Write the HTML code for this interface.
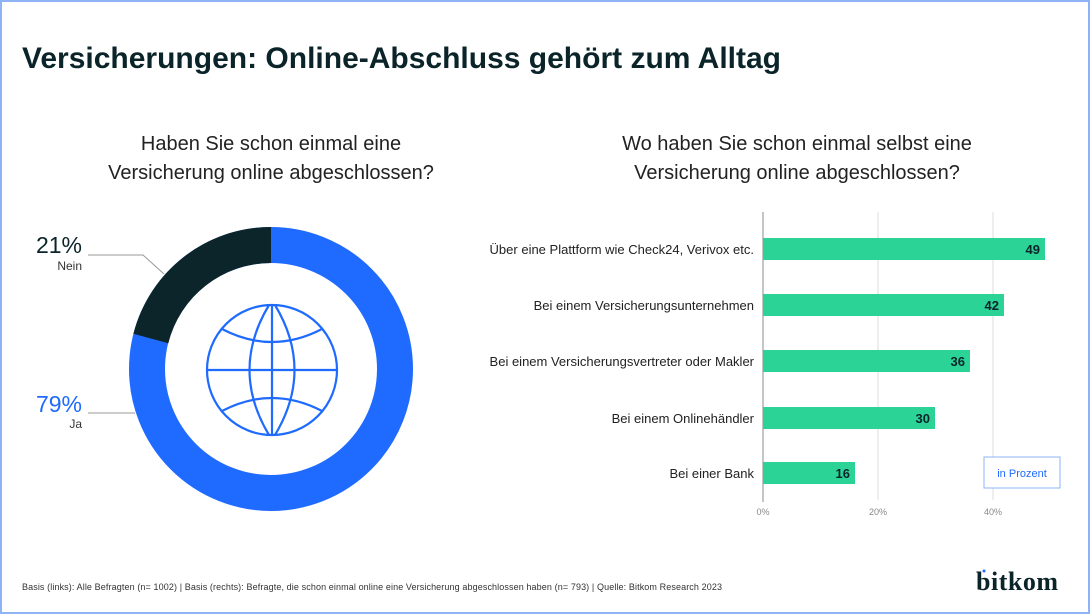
<!DOCTYPE html>
<html><head><meta charset="utf-8"><style>
body{margin:0;width:1090px;height:614px;background:#fff;font-family:"Liberation Sans",sans-serif;overflow:hidden}
.f{position:absolute;left:0;top:0;width:1086px;height:610px;border:2px solid #8fb3f5}
</style></head><body>
<div class="f"></div>
<svg width="1090" height="614" style="position:absolute;left:0;top:0" font-family="Liberation Sans, sans-serif">
<text x="22" y="68" font-size="30" font-weight="bold" fill="#0b2429">Versicherungen: Online-Abschluss gehört zum Alltag</text>
<text x="271" y="150" font-size="20" fill="#222" text-anchor="middle">Haben Sie schon einmal eine</text>
<text x="271" y="179" font-size="20" fill="#222" text-anchor="middle">Versicherung online abgeschlossen?</text>
<text x="797" y="150" font-size="20" fill="#222" text-anchor="middle">Wo haben Sie schon einmal selbst eine</text>
<text x="797" y="179" font-size="20" fill="#222" text-anchor="middle">Versicherung online abgeschlossen?</text>
<circle cx="271" cy="369" r="124" fill="none" stroke="#1f6bff" stroke-width="36"/>
<path d="M271 227 A142 142 0 0 0 133.4 333.8 L168.3 343.2 A106 106 0 0 1 271 263 Z" fill="#0b252b"/>
<g fill="none" stroke="#1f6bff" stroke-width="2.2">
<circle cx="272" cy="370" r="65"/>
<line x1="207" y1="370" x2="337" y2="370"/>
<line x1="272" y1="305" x2="272" y2="435"/>
<path d="M269 305 Q230 370 269 435 M275 305 Q314 370 275 435"/>
<path d="M222 329 Q272 355 322 329 M222 411 Q272 385 322 411"/>
</g>
<polyline points="88,255 143,255 164,274" fill="none" stroke="#999" stroke-width="1"/>
<line x1="88" y1="413" x2="135" y2="413" stroke="#999" stroke-width="1"/>
<text x="82" y="253" font-size="23" fill="#0b2429" text-anchor="end">21%</text>
<text x="82" y="270" font-size="12" fill="#333" text-anchor="end">Nein</text>
<text x="82" y="412" font-size="23" fill="#1f6bff" text-anchor="end">79%</text>
<text x="82" y="428" font-size="12" fill="#333" text-anchor="end">Ja</text>
<line x1="878" y1="212" x2="878" y2="500" stroke="#ddd"/>
<line x1="993" y1="212" x2="993" y2="500" stroke="#ddd"/>
<line x1="763" y1="212" x2="763" y2="502" stroke="#888"/>
<g fill="#2bd396">
<rect x="763" y="238" width="282" height="22"/>
<rect x="763" y="294" width="241" height="22"/>
<rect x="763" y="350" width="207" height="22"/>
<rect x="763" y="407" width="172" height="22"/>
<rect x="763" y="462" width="92" height="22"/>
</g>
<g font-size="13" font-weight="bold" fill="#0b2429" text-anchor="end">
<text x="1040" y="254">49</text><text x="999" y="310">42</text><text x="965" y="366">36</text><text x="930" y="423">30</text><text x="850" y="478">16</text>
</g>
<g font-size="13" fill="#222" text-anchor="end">
<text x="754" y="254">Über eine Plattform wie Check24, Verivox etc.</text>
<text x="754" y="310">Bei einem Versicherungsunternehmen</text>
<text x="754" y="366">Bei einem Versicherungsvertreter oder Makler</text>
<text x="754" y="423">Bei einem Onlinehändler</text>
<text x="754" y="478">Bei einer Bank</text>
</g>
<g font-size="9" fill="#888" text-anchor="middle">
<text x="763" y="515">0%</text><text x="878" y="515">20%</text><text x="993" y="515">40%</text>
</g>
<rect x="984" y="457" width="76" height="31" fill="#fff" stroke="#8fb3f5"/>
<text x="1022" y="477" font-size="11" fill="#1f6bff" text-anchor="middle">in Prozent</text>
<text x="22" y="590" font-size="9" fill="#333" textLength="700">Basis (links): Alle Befragten (n= 1002) | Basis (rechts): Befragte, die schon einmal online eine Versicherung abgeschlossen haben (n= 793) | Quelle: Bitkom Research 2023</text>
<text x="976" y="590" font-size="26" font-weight="bold" fill="#0b2429" font-family="Liberation Serif, serif" textLength="82">bitkom</text>
<circle cx="984" cy="571" r="1.5" fill="#1f6bff"/>
</svg>
</body></html>
